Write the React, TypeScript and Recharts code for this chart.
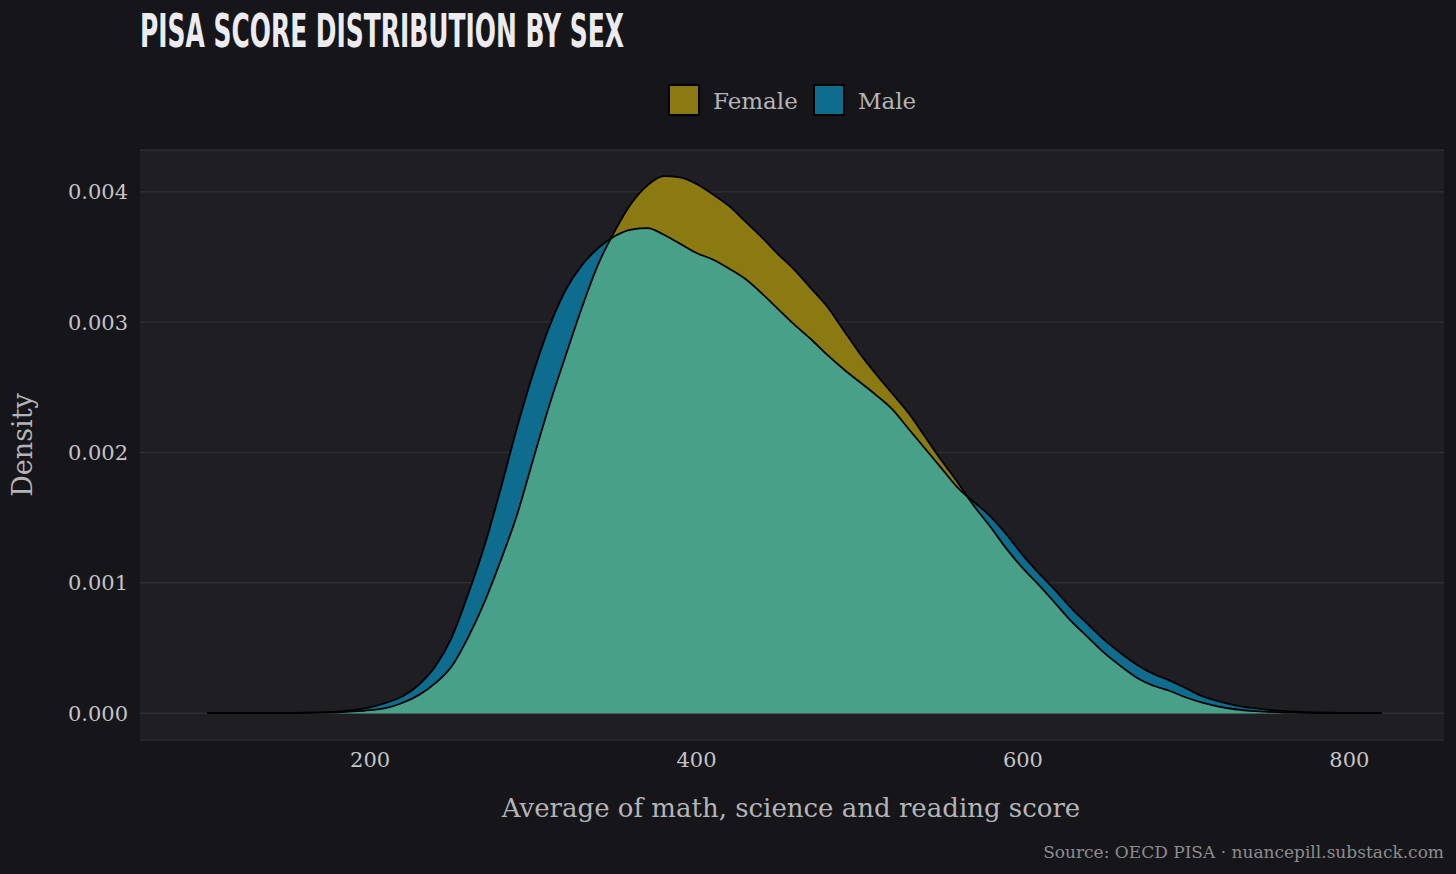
import React from "react";
import {
  Area,
  CartesianGrid,
  ComposedChart,
  Line,
  XAxis,
  YAxis,
} from "recharts";

// score grid (x) and kernel density estimates per sex
const scores = [
  100, 110, 120, 130, 140, 150, 160, 170, 180, 190,
  200, 210, 220, 230, 240, 250, 260, 270, 280, 290,
  300, 310, 320, 330, 340, 350, 360, 370, 380, 390,
  400, 410, 420, 430, 440, 450, 460, 470, 480, 490,
  500, 510, 520, 530, 540, 550, 560, 570, 580, 590,
  600, 610, 620, 630, 640, 650, 660, 670, 680, 690,
  700, 710, 720, 730, 740, 750, 760, 770, 780, 790,
  800, 810, 820,
];

const female = [
  0, 0, 0, 0, 0, 0.000001, 0.000002, 0.000004, 0.000007, 0.000013,
  0.000023, 0.00004, 0.00008, 0.00014, 0.00023, 0.00036, 0.00058, 0.00085, 0.00117, 0.00152,
  0.00195, 0.00237, 0.00275, 0.00312, 0.00345, 0.0037, 0.00391, 0.00405, 0.00412, 0.00411,
  0.00406, 0.00398, 0.00389, 0.00377, 0.00365, 0.00352, 0.0034, 0.00326, 0.00312, 0.00294,
  0.00276, 0.0026, 0.00245, 0.0023, 0.00212, 0.00194, 0.00177, 0.00159, 0.00143, 0.00126,
  0.00111, 0.00098, 0.00084, 0.0007, 0.00058, 0.00046, 0.00036, 0.00027, 0.00021, 0.00017,
  0.00012, 0.00008, 0.00005, 0.00003, 0.000018, 0.00001, 0.000005, 0.000003, 0.000001, 0,
  0, 0, 0,
];

const male = [
  0, 0, 0, 0, 0.000001, 0.000002, 0.000003, 0.000006, 0.000012, 0.000025,
  0.000045, 0.00008, 0.00013, 0.00022, 0.00036, 0.00058, 0.00091, 0.00128, 0.00172, 0.00219,
  0.00261, 0.00297, 0.00325, 0.00344, 0.00357, 0.00366, 0.00371, 0.00372, 0.00367, 0.0036,
  0.00353, 0.00348, 0.00341, 0.00333, 0.00322, 0.0031, 0.00298, 0.00287, 0.00275, 0.00264,
  0.00254, 0.00244, 0.00233, 0.00218, 0.00203, 0.00188, 0.00173, 0.00162, 0.00151, 0.00137,
  0.00121, 0.00107, 0.00094, 0.0008, 0.00068, 0.00056, 0.00046, 0.00037, 0.0003, 0.00025,
  0.00019, 0.00013, 0.00009, 0.00006, 0.00004, 0.000025, 0.000015, 0.00001, 0.000005, 0.000003,
  0.000001, 0, 0,
];

const xTicks = [200, 400, 600, 800];
const yTicks = [0, 0.001, 0.002, 0.003, 0.004];

const legendItems = [
  { label: "Female", color: "#8b7a12" },
  { label: "Male", color: "#0e6d8e" },
];

const BG = "#16161a";
const PANEL = "#1e1e23";
const OVERLAP = "#48a088";
const SERIF = "'DejaVu Serif', serif";

const rows = scores.map((s, i) => ({
  score: s,
  female: female[i],
  male: male[i],
  both: Math.min(female[i], male[i]),
}));

export default function App() {
  return (
    <div
      style={{
        position: "fixed",
        left: 0,
        top: 0,
        width: 1456,
        height: 874,
        background: BG,
        overflow: "hidden",
      }}
    >
      <ComposedChart
        width={1456}
        height={874}
        data={rows}
        margin={{ top: 150, right: 12, bottom: 104, left: 0 }}
      >
        <CartesianGrid
          fill={PANEL}
          stroke="#2d2d33"
          strokeWidth={1.5}
          vertical={false}
        />
        <XAxis
          dataKey="score"
          type="number"
          domain={[59, 858]}
          ticks={xTicks}
          allowDataOverflow
          height={30}
          tickSize={6}
          tickMargin={6}
          tickLine={false}
          axisLine={false}
          tick={{ fill: "#c4c4c8", fontSize: 21, fontFamily: SERIF }}
        />
        <YAxis
          type="number"
          domain={[-0.000206, 0.00432]}
          ticks={yTicks}
          allowDataOverflow
          width={140}
          tickSize={6}
          tickMargin={6}
          tickLine={false}
          axisLine={false}
          tickFormatter={(v) => Number(v).toFixed(3)}
          tick={{ fill: "#c4c4c8", fontSize: 21, fontFamily: SERIF }}
        />
        <Area
          type="monotone"
          dataKey="female"
          fill={legendItems[0].color}
          fillOpacity={1}
          stroke="none"
          isAnimationActive={false}
        />
        <Area
          type="monotone"
          dataKey="male"
          fill={legendItems[1].color}
          fillOpacity={1}
          stroke="none"
          isAnimationActive={false}
        />
        <Area
          type="monotone"
          dataKey="both"
          fill={OVERLAP}
          fillOpacity={1}
          stroke="none"
          isAnimationActive={false}
        />
        <Line
          type="monotone"
          dataKey="female"
          stroke="#000"
          strokeWidth={1.8}
          dot={false}
          activeDot={false}
          isAnimationActive={false}
        />
        <Line
          type="monotone"
          dataKey="male"
          stroke="#000"
          strokeWidth={1.8}
          dot={false}
          activeDot={false}
          isAnimationActive={false}
        />
      </ComposedChart>

      <svg
        width={1456}
        height={874}
        style={{ position: "absolute", left: 0, top: 0, pointerEvents: "none" }}
      >
        <text
          x={140}
          y={47}
          textLength={484}
          lengthAdjust="spacingAndGlyphs"
          fill="#ececf0"
          fontSize={47}
          fontWeight="bold"
          fontFamily="'DejaVu Sans Condensed', 'DejaVu Sans', sans-serif"
        >
          PISA SCORE DISTRIBUTION BY SEX
        </text>

        {legendItems.map((item, i) => {
          const x0 = i === 0 ? 669 : 814;
          return (
            <g key={item.label}>
              <rect
                x={x0}
                y={85}
                width={30}
                height={30}
                fill={item.color}
                stroke="#000"
                strokeWidth={2}
              />
              <text
                x={x0 + 44}
                y={109}
                fill="#b4b4b8"
                fontSize={23}
                fontFamily={SERIF}
              >
                {item.label}
              </text>
            </g>
          );
        })}

        <text
          x={32}
          y={445}
          transform="rotate(-90 32 445)"
          textAnchor="middle"
          fill="#b4b4b8"
          fontSize={27}
          fontFamily={SERIF}
        >
          Density
        </text>

        <text
          x={791}
          y={817}
          textAnchor="middle"
          fill="#b4b4b8"
          fontSize={26}
          fontFamily={SERIF}
        >
          Average of math, science and reading score
        </text>

        <text
          x={1444}
          y={858}
          textAnchor="end"
          fill="#8c8c90"
          fontSize={17}
          fontFamily={SERIF}
        >
          Source: OECD PISA · nuancepill.substack.com
        </text>
      </svg>
    </div>
  );
}
